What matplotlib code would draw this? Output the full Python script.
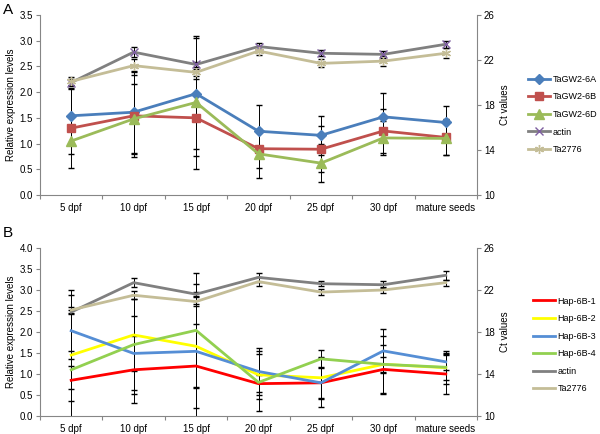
import matplotlib
matplotlib.use("Agg")
import matplotlib.pyplot as plt
from matplotlib.ticker import FixedLocator

plt.rcParams['font.family'] = ['Liberation Sans', 'DejaVu Sans']

stages = ['5 dpf', '10 dpf', '15 dpf', '20 dpf', '25 dpf', '30 dpf', 'mature seeds']

# panel A: relative expression (left axis)
gw6a = [1.54, 1.61, 1.97, 1.24, 1.16, 1.52, 1.41]
gw6a_err = [0.55, 0.80, 1.08, 0.51, 0.38, 0.46, 0.32]
gw6b = [1.30, 1.54, 1.50, 0.90, 0.89, 1.245, 1.12]
gw6b_err = [0.77, 0.80, 0.75, 0.38, 0.45, 0.43, 0.35]
gw6d = [1.05, 1.48, 1.80, 0.80, 0.62, 1.11, 1.10]
gw6d_err = [0.25, 0.68, 1.30, 0.47, 0.37, 0.33, 0.33]
# panel A: Ct values of reference genes (right axis)
actin_a = [20.0, 22.7, 21.6, 23.2, 22.6, 22.5, 23.4]
actin_a_err = [0.35, 0.45, 0.25, 0.35, 0.25, 0.30, 0.30]
ta2776_a = [20.1, 21.5, 20.9, 22.8, 21.7, 21.9, 22.6]
ta2776_a_err = [0.35, 0.55, 0.30, 0.35, 0.35, 0.45, 0.45]
labels_a = ['TaGW2-6A', 'TaGW2-6B', 'TaGW2-6D', 'actin', 'Ta2776']

# panel B: relative expression (left axis)
hap1 = [0.85, 1.10, 1.19, 0.77, 0.79, 1.11, 1.00]
hap1_err = [0.50, 0.80, 1.00, 0.20, 0.37, 0.58, 0.47]
hap2 = [1.45, 1.93, 1.66, 0.98, 0.91, 1.23, 1.15]
hap2_err = [1.55, 0.85, 1.00, 0.57, 0.50, 0.68, 0.30]
hap3 = [2.03, 1.49, 1.54, 1.06, 0.79, 1.55, 1.29]
hap3_err = [0.85, 0.88, 1.60, 0.57, 0.58, 0.52, 0.20]
hap4 = [1.10, 1.70, 2.04, 0.80, 1.36, 1.23, 1.16]
hap4_err = [0.45, 1.18, 1.36, 0.68, 0.22, 0.18, 0.39]
# panel B: Ct values (right axis)
actin_b = [19.9, 22.7, 21.6, 23.2, 22.6, 22.5, 23.4]
actin_b_err = [0.20, 0.45, 0.20, 0.40, 0.25, 0.35, 0.40]
ta2776_b = [20.1, 21.5, 20.9, 22.8, 21.8, 22.0, 22.7]
ta2776_b_err = [0.30, 0.40, 0.40, 0.40, 0.30, 0.30, 0.30]
labels_b = ['Hap-6B-1', 'Hap-6B-2', 'Hap-6B-3', 'Hap-6B-4', 'actin', 'Ta2776']

x = list(range(len(stages)))
GRAY = '#868686'
FS = 7


def style_axes(ax, ax2, ymax, ystep):
    ax.set_xlim(-0.5, len(stages) - 0.5)
    ax.set_ylim(0, ymax)
    n = int(round(ymax / ystep))
    ax.set_yticks([i * ystep for i in range(n + 1)])
    ax.set_yticklabels(['%.1f' % (i * ystep) for i in range(n + 1)], fontsize=FS)
    ax.set_xticks(x)
    ax.set_xticklabels(stages, fontsize=FS)
    ax.xaxis.set_minor_locator(FixedLocator([i - 0.5 for i in range(len(stages) + 1)]))
    ax.tick_params(axis='x', which='major', length=0, pad=6)
    ax.tick_params(axis='x', which='minor', length=3, color=GRAY, width=0.8)
    ax.tick_params(axis='y', length=3, color=GRAY, width=0.8, pad=2)
    ax.spines['top'].set_visible(False)
    ax.spines['right'].set_visible(False)
    ax.spines['left'].set_color(GRAY)
    ax.spines['bottom'].set_color(GRAY)
    ax.set_ylabel('Relative expression levels', fontsize=FS, labelpad=3)

    ax2.set_ylim(10, 26)
    ax2.set_yticks([10, 14, 18, 22, 26])
    ax2.set_yticklabels(['10', '14', '18', '22', '26'], fontsize=FS)
    ax2.tick_params(axis='y', length=3, color=GRAY, width=0.8, pad=2)
    for s in ['top', 'left', 'bottom']:
        ax2.spines[s].set_visible(False)
    ax2.spines['right'].set_color(GRAY)
    ax2.set_ylabel('Ct values', fontsize=FS, labelpad=4)


def series(ax, y, err, color, marker=None, ms=5, mec=None):
    return ax.errorbar(x, y, yerr=err, color=color, lw=2.0, marker=marker,
                       ms=ms, mfc=color, mec=mec if mec else color,
                       mew=1.0, ecolor='black', elinewidth=0.7, capsize=2,
                       capthick=0.7)[0]


fig = plt.figure(figsize=(6.0, 4.34), dpi=100)

# ---- panel A ----
axA = fig.add_axes([40 / 600, 1 - 195 / 434, 437 / 600, 180 / 434])
axA2 = axA.twinx()
style_axes(axA, axA2, 3.5, 0.5)
hA = []
hA.append(series(axA, gw6a, gw6a_err, '#4A7EBB', 'D', 5))
hA.append(series(axA, gw6b, gw6b_err, '#C0504D', 's', 6))
hA.append(series(axA, gw6d, gw6d_err, '#9BBB59', '^', 6.5))
hA.append(series(axA2, actin_a, actin_a_err, '#808080', 'x', 5.5, mec='#7E5FA0'))
hA.append(series(axA2, ta2776_a, ta2776_a_err, '#C4BD97', (6, 2, 0), 6.5))
fig.legend(hA, labels_a, loc='center left', bbox_to_anchor=(528 / 600, 1 - 114.5 / 434),
           frameon=False, fontsize=6.5, handlelength=2.4, handletextpad=0.3,
           labelspacing=0.95, borderpad=0, borderaxespad=0)
fig.text(3 / 600, 1 - 10 / 434, 'A', fontsize=11, va='center', ha='left')

# ---- panel B ----
axB = fig.add_axes([40 / 600, 1 - 416 / 434, 437 / 600, 168 / 434])
axB2 = axB.twinx()
style_axes(axB, axB2, 4.0, 0.5)
hB = []
hB.append(series(axB, hap1, hap1_err, '#FF0000'))
hB.append(series(axB, hap2, hap2_err, '#FFFF00'))
hB.append(series(axB, hap3, hap3_err, '#558ED5'))
hB.append(series(axB, hap4, hap4_err, '#92D050'))
hB.append(series(axB2, actin_b, actin_b_err, '#808080'))
hB.append(series(axB2, ta2776_b, ta2776_b_err, '#C4BD97'))
fig.legend(hB, labels_b, loc='center left', bbox_to_anchor=(533 / 600, 1 - 345 / 434),
           frameon=False, fontsize=6.5, handlelength=2.4, handletextpad=0.3,
           labelspacing=0.95, borderpad=0, borderaxespad=0)
fig.text(3 / 600, 1 - 233 / 434, 'B', fontsize=11, va='center', ha='left')

fig.savefig('out.png', dpi=100)
